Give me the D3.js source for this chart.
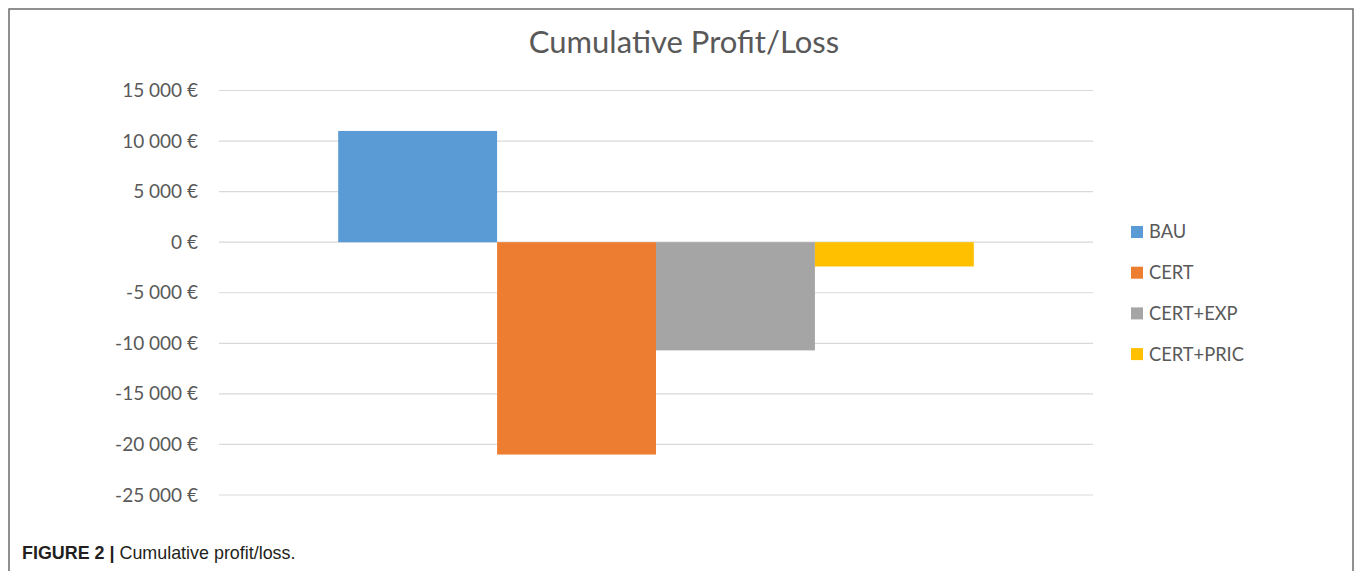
<!DOCTYPE html>
<html>
<head>
<meta charset="utf-8">
<script src="https://cdn.jsdelivr.net/npm/d3@7"></script>
<style>
  body { margin: 0; background: #fff; }
  svg { display: block; }
</style>
</head>
<body>
<div id="chart"></div>
<script>
// data
let series = ["BAU", "CERT", "CERT+EXP", "CERT+PRIC"];
let values = [11000, -21000, -10700, -2400];
let colors = ["#5b9bd5", "#ed7d31", "#a5a5a5", "#ffc000"];
let yTicks = [15000, 10000, 5000, 0, -5000, -10000, -15000, -20000, -25000];

let W = 1360, H = 571;
let svg = d3.select("#chart").append("svg")
  .attr("width", W).attr("height", H);

// outer frame
svg.append("rect")
  .attr("x", 9).attr("y", 9)
  .attr("width", 1344).attr("height", H + 10)
  .attr("fill", "none")
  .attr("stroke", "#6b6b6b")
  .attr("stroke-width", 1.5);

let plot = {left: 219, right: 1093, top: 90.5, bottom: 495};

let y = d3.scaleLinear()
  .domain([-25000, 15000])
  .range([plot.bottom, plot.top]);

let x = d3.scaleBand()
  .domain(series)
  .range([plot.left, plot.right])
  .paddingInner(0)
  .paddingOuter(0.75);

let fmt = v => {
  let s = d3.format(",")(Math.abs(v)).replace(/,/g, " ");
  return (v < 0 ? "-" : "") + s + " €";
};

// gridlines
svg.append("g").selectAll("line")
  .data(yTicks)
  .enter().append("line")
  .attr("x1", plot.left).attr("x2", plot.right)
  .attr("y1", d => y(d)).attr("y2", d => y(d))
  .attr("stroke", "#d9d9d9")
  .attr("stroke-width", 1.2);

// y axis labels
let yAxis = d3.axisLeft(y).tickValues(yTicks).tickFormat(fmt).tickSize(0).tickPadding(21);
let ag = svg.append("g")
  .attr("transform", "translate(" + plot.left + ",0)")
  .call(yAxis);
ag.select(".domain").remove();
ag.selectAll("text")
  .attr("font-family", "Lato, 'Open Sans', sans-serif")
  .attr("font-size", 19)
  .attr("fill", "#595959");

// bars
svg.append("g").selectAll("rect")
  .data(series)
  .enter().append("rect")
  .attr("x", d => x(d))
  .attr("width", x.bandwidth())
  .attr("y", (d, i) => y(Math.max(0, values[i])))
  .attr("height", (d, i) => Math.abs(y(values[i]) - y(0)))
  .attr("fill", (d, i) => colors[i]);

// title
svg.append("text")
  .attr("x", 684).attr("y", 53)
  .attr("text-anchor", "middle")
  .attr("font-family", "Lato, 'Open Sans', sans-serif")
  .attr("font-size", 31)
  .attr("fill", "#595959")
  .text("Cumulative Profit/Loss");

// legend
let lg = svg.append("g").selectAll("g")
  .data(series)
  .enter().append("g")
  .attr("transform", (d, i) => "translate(1131," + (232 + i * 40.7) + ")");
lg.append("rect")
  .attr("x", 0).attr("y", -6)
  .attr("width", 12).attr("height", 12)
  .attr("fill", (d, i) => colors[i]);
lg.append("text")
  .attr("x", 18).attr("y", 0)
  .attr("dy", "0.35em")
  .attr("font-family", "Lato, 'Open Sans', sans-serif")
  .attr("font-size", 18.3)
  .attr("fill", "#595959")
  .text(d => d);

// caption
let cap = svg.append("text")
  .attr("x", 22).attr("y", 558.5)
  .attr("font-family", "'Liberation Sans', Arial, sans-serif")
  .attr("font-size", 17.9)
  .attr("fill", "#231f20");
cap.append("tspan").attr("font-weight", "bold").text("FIGURE 2 | ");
cap.append("tspan").text("Cumulative profit/loss.");
</script>
</body>
</html>
